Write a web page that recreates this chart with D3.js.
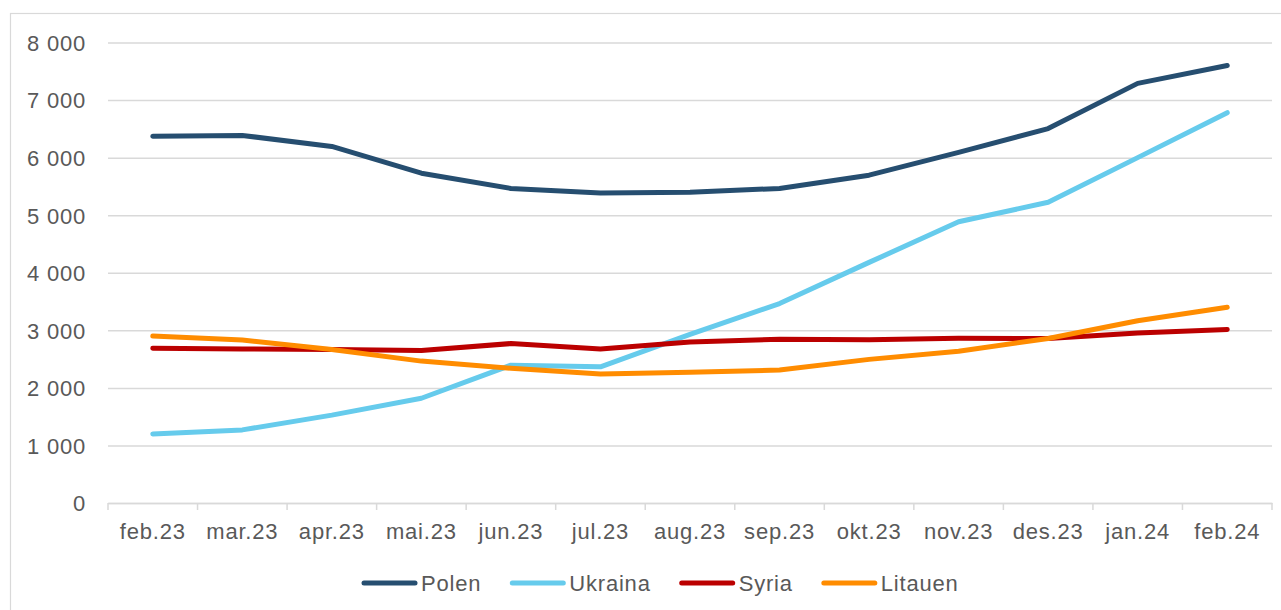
<!DOCTYPE html>
<html>
<head>
<meta charset="utf-8">
<script src="https://cdn.jsdelivr.net/npm/d3@7"></script>
<style>
  body { margin: 0; background: #fff; }
  svg { display: block; font-family: "Liberation Sans", Arial, sans-serif; }
  .grid line { stroke: #d9d9d9; stroke-width: 1.5; }
  .tick text { fill: #595959; font-size: 22px; letter-spacing: 0.8px; }
</style>
</head>
<body>
<svg class="chart"></svg>
<script>
// data
let months = ["feb.23", "mar.23", "apr.23", "mai.23", "jun.23", "jul.23", "aug.23",
              "sep.23", "okt.23", "nov.23", "des.23", "jan.24", "feb.24"];
let polen   = [6370, 6385, 6195, 5730, 5465, 5385, 5400, 5465, 5695, 6090, 6505, 7290, 7600];
let ukraina = [1200, 1270, 1527, 1820, 2395, 2365, 2930, 3465, 4180, 4885, 5225, 6000, 6780];
let syria   = [2690, 2675, 2667, 2650, 2770, 2675, 2795, 2845, 2835, 2860, 2858, 2955, 3015];
let litauen = [2900, 2830, 2667, 2465, 2340, 2240, 2270, 2310, 2495, 2637, 2858, 3165, 3400];
let yTicks  = [0, 1000, 2000, 3000, 4000, 5000, 6000, 7000, 8000];

let series = [
  {name: "Polen",   values: polen,   color: "#264e70"},
  {name: "Ukraina", values: ukraina, color: "#66cbec"},
  {name: "Syria",   values: syria,   color: "#bb0000"},
  {name: "Litauen", values: litauen, color: "#ff8c00"}
];

let W = 1281, H = 610;
let margin = {top: 42.5, right: 9, bottom: 107, left: 108};
let width = W - margin.left - margin.right;
let height = H - margin.top - margin.bottom;

let svg = d3.select("svg").attr("width", W).attr("height", H);

// outer chart border
svg.append("rect")
  .attr("x", 10.5).attr("y", 13.5)
  .attr("width", 1300).attr("height", 700)
  .attr("fill", "none").attr("stroke", "#d9d9d9").attr("stroke-width", 1.2);

let xScale = d3.scaleBand().domain(months).range([0, width]);
let yScale = d3.scaleLinear().domain([0, 8000]).range([height, 0]);

let fmt = d => d3.format(",")(d).replace(/,/g, " ");

let parent = svg.append("g")
  .attr("transform", `translate(${margin.left}, ${margin.top})`);

// gridlines + y labels
let yAxis = parent.append("g")
  .attr("class", "grid")
  .call(d3.axisLeft(yScale).tickValues(yTicks).tickFormat(fmt).tickSize(-width).tickPadding(22));
yAxis.select(".domain").remove();
yAxis.selectAll(".tick text").attr("dy", "0.36em");

// x axis
let xAxis = parent.append("g")
  .attr("transform", `translate(0, ${height})`)
  .call(d3.axisBottom(xScale).tickSize(0).tickPadding(20));
xAxis.select(".domain").attr("stroke", "#d9d9d9").attr("stroke-width", 1.5);
xAxis.selectAll(".tick text").attr("dy", "0.71em");

// tick marks on band edges
parent.append("g")
  .selectAll("line")
  .data(months.concat(["end"]))
  .join("line")
  .attr("x1", (d, i) => i < months.length ? xScale(d) : width)
  .attr("x2", (d, i) => i < months.length ? xScale(d) : width)
  .attr("y1", height).attr("y2", height + 7)
  .attr("stroke", "#d9d9d9").attr("stroke-width", 1.5);

let line = d3.line()
  .x((d, i) => xScale(months[i]) + xScale.bandwidth() / 2)
  .y(d => yScale(d));

parent.selectAll(".series")
  .data(series)
  .join("path")
  .attr("class", "series")
  .attr("fill", "none")
  .attr("stroke", d => d.color)
  .attr("stroke-width", 5)
  .attr("stroke-linecap", "round")
  .attr("stroke-linejoin", "round")
  .attr("d", d => line(d.values));

// legend
let legend = svg.append("g").attr("transform", "translate(362, 583)");
let lx = 0;
series.forEach(s => {
  let g = legend.append("g").attr("transform", `translate(${lx}, 0)`);
  g.append("line")
    .attr("x1", 2).attr("x2", 53)
    .attr("stroke", s.color).attr("stroke-width", 5).attr("stroke-linecap", "round");
  let t = g.append("text")
    .attr("x", 59).attr("dy", "0.36em")
    .attr("fill", "#595959")
    .style("font-size", "22px").style("letter-spacing", "0.8px")
    .text(s.name);
  lx += 59 + t.node().getComputedTextLength() + 29;
});
</script>
</body>
</html>
